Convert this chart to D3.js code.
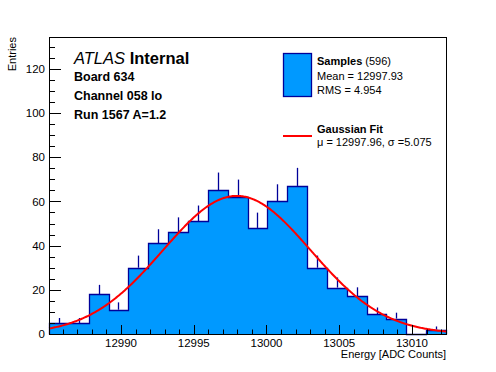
<!DOCTYPE html>
<html>
<head>
<meta charset="utf-8">
<script src="https://cdn.jsdelivr.net/npm/d3@7"></script>
<style>
  body { margin: 0; background: #fff; }
  svg { font-family: "Liberation Sans", Arial, Helvetica, sans-serif; }
</style>
</head>
<body>
<svg width="496" height="372"></svg>
<script>
// histogram: 20 bins between the axis limits
var xRange = [12985.05, 13012.34];
var binCounts = [5, 5, 18, 11, 30, 41, 46, 51, 65, 62, 48, 60, 67, 30, 21, 17, 9, 7, 0, 2];
var xTicksMajor = [12990, 12995, 13000, 13005, 13010];
var yTicksMajor = [0, 20, 40, 60, 80, 100, 120];
var yMax = 134.4;

// legend statistics as printed
var nSamples = 596;
var statMean = "12997.93";
var statRms = "4.954";

// fit parameters (from legend) and fitted height
var fitMu = 12997.96;
var fitSigma = 5.075;
var fitConst = 62.5;

var infoLines = ["Board 634", "Channel 058 lo", "Run 1567 A=1.2"];

var fillColor = "#0099ff";
var lineColor = "#000099";

var margin = { top: 37, right: 50, bottom: 38, left: 49 };
var width = 496 - margin.left - margin.right;
var height = 372 - margin.top - margin.bottom;

var svg = d3.select("svg");
var chart = svg.append("g")
    .attr("transform", "translate(" + margin.left + "," + margin.top + ")");

var x = d3.scaleLinear().domain(xRange).range([0, width]);
var y = d3.scaleLinear().domain([0, yMax]).range([height, 0]);

var binW = (xRange[1] - xRange[0]) / binCounts.length;
var bins = binCounts.map(function (c, i) {
    return { x0: xRange[0] + i * binW, x1: xRange[0] + (i + 1) * binW, n: c };
});

// filled bars
chart.selectAll(".bar")
    .data(bins)
    .enter().append("rect")
    .attr("class", "bar")
    .attr("x", function (d) { return x(d.x0); })
    .attr("width", function (d) { return x(d.x1) - x(d.x0); })
    .attr("y", function (d) { return y(d.n); })
    .attr("height", function (d) { return y(0) - y(d.n); })
    .attr("fill", fillColor)
    .attr("shape-rendering", "crispEdges");

// step outline
var steps = [[x(bins[0].x0), y(0)]];
bins.forEach(function (d) {
    steps.push([x(d.x0), y(d.n)]);
    steps.push([x(d.x1), y(d.n)]);
});
steps.push([x(bins[bins.length - 1].x1), y(0)]);
chart.append("path")
    .attr("d", d3.line()(steps.map(function (p) { return [Math.round(p[0]) + 0.5, Math.round(p[1]) + 0.5]; })))
    .attr("fill", "none")
    .attr("stroke", lineColor)
    .attr("stroke-width", 1.3);

// error bars (upper half visible above the fill)
chart.selectAll(".err")
    .data(bins.filter(function (d) { return d.n > 0; }))
    .enter().append("line")
    .attr("class", "err")
    .attr("x1", function (d) { return Math.round(x((d.x0 + d.x1) / 2)) + 0.5; })
    .attr("x2", function (d) { return Math.round(x((d.x0 + d.x1) / 2)) + 0.5; })
    .attr("y1", function (d) { return y(d.n); })
    .attr("y2", function (d) { return y(d.n + Math.sqrt(d.n)); })
    .attr("stroke", lineColor)
    .attr("stroke-width", 1.3);

// gaussian fit curve
var fitX = d3.range(0, 401).map(function (i) { return xRange[0] + (xRange[1] - xRange[0]) * i / 400; });
chart.append("path")
    .datum(fitX)
    .attr("d", d3.line()
        .x(function (v) { return x(v); })
        .y(function (v) { return y(fitConst * Math.exp(-0.5 * Math.pow((v - fitMu) / fitSigma, 2))); }))
    .attr("fill", "none")
    .attr("stroke", "#ff0000")
    .attr("stroke-width", 2);

// axes: ROOT style ticks pointing inward
var xMinor = d3.range(12986, 13013);
chart.selectAll(".xminor").data(xMinor).enter().append("line")
    .attr("x1", function (d) { return Math.round(x(d)) + 0.5; })
    .attr("x2", function (d) { return Math.round(x(d)) + 0.5; })
    .attr("y1", height).attr("y2", function (d) { return xTicksMajor.indexOf(d) >= 0 ? height - 9 : height - 4.5; })
    .attr("stroke", "#000");
chart.selectAll(".xlab").data(xTicksMajor).enter().append("text")
    .attr("x", function (d) { return x(d); })
    .attr("y", height + 13)
    .attr("text-anchor", "middle")
    .attr("font-size", 11.5)
    .text(function (d) { return d; });

var yMinor = d3.range(0, 135, 5);
chart.selectAll(".yminor").data(yMinor).enter().append("line")
    .attr("y1", function (d) { return Math.round(y(d)) + 0.5; })
    .attr("y2", function (d) { return Math.round(y(d)) + 0.5; })
    .attr("x1", 0).attr("x2", function (d) { return yTicksMajor.indexOf(d) >= 0 ? 12 : 6; })
    .attr("stroke", "#000");
chart.selectAll(".ylab").data(yTicksMajor).enter().append("text")
    .attr("x", -4)
    .attr("y", function (d) { return y(d); })
    .attr("dy", "0.36em")
    .attr("text-anchor", "end")
    .attr("font-size", 11.5)
    .text(function (d) { return d; });

// frame
chart.append("rect")
    .attr("x", 0.5).attr("y", 0.5)
    .attr("width", width).attr("height", height)
    .attr("fill", "none")
    .attr("stroke", "#000")
    .attr("shape-rendering", "crispEdges");

// axis titles
svg.append("text")
    .attr("x", margin.left + width)
    .attr("y", 358)
    .attr("text-anchor", "end")
    .attr("font-size", 11)
    .text("Energy [ADC Counts]");
svg.append("text")
    .attr("transform", "translate(16," + margin.top + ") rotate(-90)")
    .attr("text-anchor", "end")
    .attr("font-size", 11)
    .text("Entries");

// ATLAS label
var atlas = svg.append("text")
    .attr("x", 74).attr("y", 63.5)
    .attr("font-size", 16.5);
atlas.append("tspan").attr("font-style", "italic").text("ATLAS");
atlas.append("tspan").attr("font-weight", "bold").text(" Internal");
svg.selectAll(".info").data(infoLines).enter().append("text")
    .attr("x", 74)
    .attr("y", function (d, i) { return 81 + i * 19; })
    .attr("font-size", 12.5)
    .attr("font-weight", "bold")
    .text(function (d) { return d; });

// legend
svg.append("rect")
    .attr("x", 283.5).attr("y", 53.5)
    .attr("width", 28).attr("height", 43)
    .attr("fill", fillColor)
    .attr("stroke", lineColor)
    .attr("stroke-width", 1.3);
var leg1 = svg.append("text").attr("x", 317).attr("y", 65).attr("font-size", 11);
leg1.append("tspan").attr("font-weight", "bold").text("Samples");
leg1.append("tspan").text(" (" + nSamples + ")");
svg.append("text").attr("x", 317).attr("y", 80).attr("font-size", 11).text("Mean = " + statMean);
svg.append("text").attr("x", 317).attr("y", 93.5).attr("font-size", 11).text("RMS = " + statRms);

svg.append("line")
    .attr("x1", 283).attr("x2", 312)
    .attr("y1", 136).attr("y2", 136)
    .attr("stroke", "#ff0000").attr("stroke-width", 2);
svg.append("text").attr("x", 317).attr("y", 132.5).attr("font-size", 11).attr("font-weight", "bold").text("Gaussian Fit");
svg.append("text").attr("x", 317).attr("y", 145.5).attr("font-size", 11)
    .text("\u03bc = " + fitMu.toFixed(2) + ", \u03c3 =" + fitSigma.toFixed(3));
</script>
</body>
</html>
